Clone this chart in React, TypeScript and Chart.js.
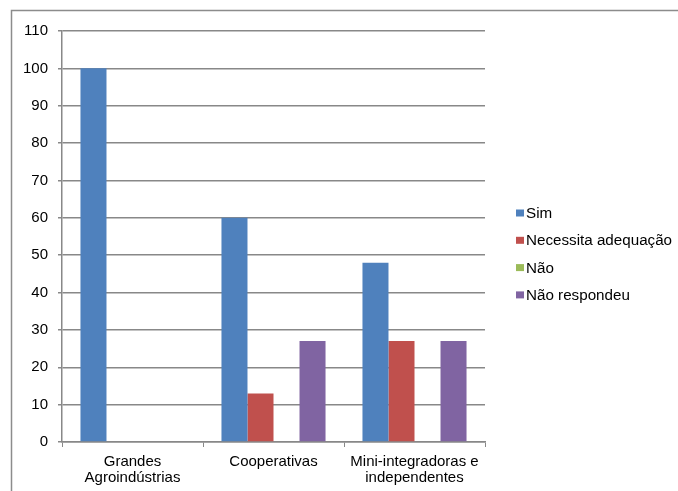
import React, { useEffect, useRef } from "react";
import { Chart, registerables } from "chart.js";

Chart.register(...registerables);

const categories: (string | string[])[] = [
  ["Grandes", "Agroindústrias"],
  "Cooperativas",
  ["Mini-integradoras e", "independentes"],
];
const seriesNames = ["Sim", "Necessita adequação", "Não", "Não respondeu"];
const seriesColors = ["#4F81BD", "#C0504D", "#9BBB59", "#8064A2"];
const sim = [100, 60, 48];
const necessita = [0, 13, 27];
const nao = [0, 0, 0];
const naoRespondeu = [0, 27, 27];
const yMin = 0;
const yMax = 110;
const yStep = 10;

const FONT = "'Liberation Sans', Arial, sans-serif";

const framePlugin = {
  id: "frame",
  beforeDraw(chart: any) {
    const ctx = chart.ctx;
    ctx.save();
    ctx.fillStyle = "#ffffff";
    ctx.fillRect(0, 0, chart.width, chart.height);
    ctx.strokeStyle = "#8c8c8c";
    ctx.lineWidth = 1.5;
    ctx.beginPath();
    ctx.moveTo(chart.width + 5, 10.5);
    ctx.lineTo(11.5, 10.5);
    ctx.lineTo(11.5, chart.height + 5);
    ctx.stroke();
    ctx.restore();
  },
};

const legendPlugin = {
  id: "customLegend",
  afterDraw(chart: any) {
    const ctx = chart.ctx;
    ctx.save();
    ctx.font = `15.2px ${FONT}`;
    ctx.textBaseline = "middle";
    ctx.textAlign = "left";
    chart.data.datasets.forEach((ds: any, i: number) => {
      const cy = 213 + i * 27.3;
      ctx.fillStyle = ds.backgroundColor;
      ctx.fillRect(516, cy - 3.5, 8, 7);
      ctx.fillStyle = "#000000";
      ctx.fillText(ds.label, 526, cy + 1);
    });
    ctx.restore();
  },
};

export default function App() {
  const ref = useRef<HTMLCanvasElement | null>(null);
  useEffect(() => {
    if (!ref.current) return;
    const values = [sim, necessita, nao, naoRespondeu];
    const chart = new Chart(ref.current, {
      type: "bar",
      data: {
        labels: categories,
        datasets: seriesNames.map((name, i) => ({
          label: name,
          data: values[i],
          backgroundColor: seriesColors[i],
          borderWidth: 0,
          barPercentage: 1,
          categoryPercentage: 0.738,
        })),
      },
      options: {
        animation: false,
        responsive: false,
        maintainAspectRatio: false,
        layout: { padding: { top: 31, right: 193, left: 0, bottom: 0 } },
        plugins: {
          legend: { display: false },
          tooltip: { enabled: false },
        },
        scales: {
          x: {
            offset: true,
            grid: {
              offset: true,
              drawOnChartArea: false,
              drawTicks: true,
              tickLength: 5,
              color: "#888888",
            },
            border: { display: true, color: "#888888", width: 1.5 },
            ticks: {
              color: "#000000",
              padding: 6,
              font: { family: FONT, size: 15, lineHeight: 1.12 },
              maxRotation: 0,
              autoSkip: false,
            },
            afterFit(scale: any) {
              scale.height = 49;
            },
          },
          y: {
            min: yMin,
            max: yMax,
            grid: {
              color: "#888888",
              lineWidth: 1.5,
              drawTicks: true,
              tickLength: 4,
            },
            border: { display: true, color: "#888888", width: 1.5 },
            ticks: {
              stepSize: yStep,
              color: "#000000",
              padding: 10,
              font: { family: FONT, size: 15 },
            },
            afterFit(scale: any) {
              scale.width = 62;
            },
          },
        },
      },
      plugins: [framePlugin, legendPlugin],
    });
    return () => chart.destroy();
  }, []);
  return (
    <div style={{ position: "absolute", left: 0, top: 0, width: 678, height: 491 }}>
      <canvas ref={ref} width={678} height={491} style={{ display: "block" }} />
    </div>
  );
}
